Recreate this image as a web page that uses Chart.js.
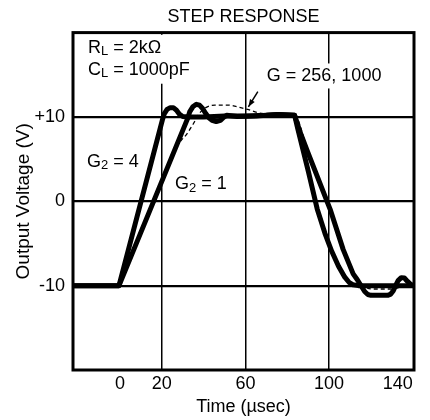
<!DOCTYPE html>
<html>
<head>
<meta charset="utf-8">
<script src="https://cdn.jsdelivr.net/npm/chart.js@4"></script>
<style>
  html, body { margin: 0; padding: 0; background: #fff; }
  #wrap { width: 430px; height: 420px; }
</style>
</head>
<body>
<div id="wrap"><canvas id="stepChart" width="430" height="420"></canvas></div>
<script>
// time axis (usec) and tick labels
var xMin = -22.5, xMax = 140.6;
var xTicks = [0, 20, 60, 100, 140];
var xGrid = [20, 60, 100];
var yTicks = [-10, 0, 10];

// G2 = 4 trace
var tG4 = [-22.5, -0.5, 20.2, 21.2, 22.5, 24, 25.5, 27, 28.5, 30, 33, 40, 50, 60, 70, 76, 83.5,
           85, 90, 94.3, 98, 101.2, 104.5, 107.5, 109.5, 111.5, 114, 125, 140.6];
var vG4 = [-10, -10, 9.6, 10.4, 10.9, 11.1, 11.1, 10.8, 10.3, 10.05, 10, 10, 10.1, 10.1, 10.2, 10.3, 10.2,
           8.6, 3.6, -0.9, -3.8, -5.9, -7.7, -9, -9.6, -9.9, -10, -10, -10];

// G2 = 1 trace
var tG1 = [-22.5, -0.5, 32.3, 33.3, 34.8, 36.5, 38, 39.5, 41, 42.5, 44, 46, 48, 49.5, 51, 53, 56, 65, 75, 83.5,
           86, 89.5, 100.5, 106.7, 111.5, 113.5, 115.5, 117, 118.5, 120, 128, 129.5, 130.7, 131.8, 133, 134.5,
           136, 137.5, 139, 140.6];
var vG1 = [-10, -10, 9.8, 10.6, 11.2, 11.5, 11.4, 11, 10.4, 9.9, 9.6, 9.45, 9.6, 9.95, 10.2, 10.15, 10.05, 10.1, 10.3, 10.2,
           8.3, 6.0, -0.95, -5.7, -8.6, -9.3, -10.1, -10.7, -11.05, -11.15, -11.15, -11, -10.6, -10, -9.4, -9.05,
           -9.1, -9.5, -9.85, -10];

// G = 256, 1000 trace (dashed)
var tG = [-22.5, -0.5, 2, 12, 24, 28, 32, 35.8, 38.2, 41, 45.4, 52, 56, 61, 66, 72, 79, 83.5,
          90, 100.5, 107, 113, 117, 121, 130, 134, 140.6];
var vG = [-10, -10, -8.5, -2.45, 4.8, 6.8, 8.0, 9.5, 10.5, 11.1, 11.4, 11.4, 11.2, 10.9, 10.5, 10.35, 10.3, 10.2,
          5.8, -0.8, -5.8, -9, -10.1, -10.4, -10.4, -10.2, -10];

function pts(t, v) {
    return t.map(function (x, i) { return { x: x, y: v[i] }; });
}

var fontFamily = '"Liberation Sans", Arial, Helvetica, sans-serif';

// text notes inside the plot, placed in data units
var notes = [
    { t: -15.3, v: 18.2, parts: [['R'], ['L', 1], [' = 2k\u03A9']], pad: [4, 6, 4, 8] },
    { t: -15.3, v: 15.6, parts: [['C'], ['L', 1], [' = 1000pF']], pad: [4, 6, 5, 8] },
    { t: 70.2, v: 14.8, parts: [['G = 256, 1000']], pad: [4, 4, 3, 4] },
    { t: -15.8, v: 4.7, parts: [['G'], ['2', 1], [' = 4']], pad: [2, 2, 2, 2] },
    { t: 26.3, v: 2.0, parts: [['G'], ['2', 1], [' = 1']], pad: [2, 2, 2, 2] }
];

var notesPlugin = {
    id: 'notes',
    beforeDatasetsDraw: function (chart) {
        var ctx = chart.ctx;
        var xs = chart.scales.x, ys = chart.scales.y;
        ctx.save();
        ctx.textBaseline = 'middle';
        notes.forEach(function (n) {
            var x0 = xs.getPixelForValue(n.t);
            var y0 = ys.getPixelForValue(n.v);
            var w = 0;
            n.parts.forEach(function (p) {
                ctx.font = (p[1] ? '13px ' : '18px ') + fontFamily;
                w += ctx.measureText(p[0]).width;
            });
            ctx.fillStyle = '#fff';
            ctx.fillRect(x0 - n.pad[3], y0 - 9 - n.pad[0], w + n.pad[1] + n.pad[3], 18 + n.pad[0] + n.pad[2]);
            ctx.fillStyle = '#000';
            var x = x0;
            n.parts.forEach(function (p) {
                ctx.font = (p[1] ? '13px ' : '18px ') + fontFamily;
                ctx.fillText(p[0], x, p[1] ? y0 + 4 : y0);
                x += ctx.measureText(p[0]).width;
            });
        });
        ctx.restore();
    },
    afterDraw: function (chart) {
        var ctx = chart.ctx, a = chart.chartArea;
        var xs = chart.scales.x, ys = chart.scales.y;
        ctx.save();
        // frame
        ctx.strokeStyle = '#000';
        ctx.lineWidth = 3;
        ctx.strokeRect(a.left, a.top, a.right - a.left, a.bottom - a.top);
        // arrow from the G label to the dashed trace
        var x1 = xs.getPixelForValue(65.9), y1 = ys.getPixelForValue(13.0);
        var x2 = xs.getPixelForValue(61.4), y2 = ys.getPixelForValue(11.2);
        ctx.lineWidth = 1.5;
        ctx.beginPath();
        ctx.moveTo(x1, y1);
        ctx.lineTo(x2, y2);
        ctx.stroke();
        var ang = Math.atan2(y2 - y1, x2 - x1);
        ctx.beginPath();
        ctx.moveTo(x2, y2);
        ctx.lineTo(x2 - 8 * Math.cos(ang - 0.35), y2 - 8 * Math.sin(ang - 0.35));
        ctx.lineTo(x2 - 8 * Math.cos(ang + 0.35), y2 - 8 * Math.sin(ang + 0.35));
        ctx.closePath();
        ctx.fillStyle = '#000';
        ctx.fill();
        ctx.restore();
    }
};

var thick = {
    borderColor: '#000',
    borderWidth: 5,
    pointRadius: 0,
    fill: false,
    tension: 0,
    borderJoinStyle: 'round',
    borderCapStyle: 'round'
};

new Chart(document.getElementById('stepChart'), {
    type: 'line',
    data: {
        datasets: [
            Object.assign({ label: 'G2 = 4', data: pts(tG4, vG4) }, thick),
            Object.assign({ label: 'G2 = 1', data: pts(tG1, vG1) }, thick),
            {
                label: 'G = 256, 1000',
                data: pts(tG, vG),
                borderColor: '#000',
                borderWidth: 1.3,
                borderDash: [4, 3],
                pointRadius: 0,
                fill: false,
                cubicInterpolationMode: 'monotone'
            }
        ]
    },
    options: {
        responsive: false,
        animation: false,
        layout: { padding: { left: 12, right: 16, top: 0, bottom: 0 } },
        plugins: {
            legend: { display: false },
            tooltip: { enabled: false },
            title: {
                display: true,
                fullSize: false,
                text: 'STEP RESPONSE',
                color: '#000',
                font: { family: fontFamily, size: 18, weight: 'normal' },
                padding: { top: 6, bottom: 5 }
            }
        },
        scales: {
            x: {
                type: 'linear',
                min: xMin,
                max: xMax,
                afterBuildTicks: function (axis) {
                    axis.ticks = [{ value: xMin }].concat(xTicks.map(function (v) { return { value: v }; }));
                },
                afterFit: function (axis) { axis.height = 50; },
                ticks: {
                    align: 'inner',
                    padding: 3,
                    color: '#000',
                    font: { family: fontFamily, size: 18 },
                    maxRotation: 0,
                    callback: function (v) { return v === xMin ? '' : String(v); }
                },
                grid: {
                    drawTicks: false,
                    lineWidth: 1.5,
                    color: function (c) {
                        return c.tick && xGrid.indexOf(c.tick.value) >= 0 ? '#000' : 'rgba(0,0,0,0)';
                    }
                },
                border: { display: false },
                title: {
                    display: true,
                    text: 'Time (\u00B5sec)',
                    color: '#000',
                    font: { family: fontFamily, size: 18 },
                    padding: { top: 2, bottom: 2 }
                }
            },
            y: {
                min: -20,
                max: 20,
                afterBuildTicks: function (axis) {
                    axis.ticks = yTicks.map(function (v) { return { value: v }; });
                },
                afterFit: function (axis) { axis.width = 61; },
                ticks: {
                    padding: 8,
                    color: '#000',
                    font: { family: fontFamily, size: 18 },
                    callback: function (v) { return v > 0 ? '+' + v : String(v); }
                },
                grid: {
                    drawTicks: false,
                    lineWidth: 2.2,
                    color: '#000'
                },
                border: { display: false },
                title: {
                    display: true,
                    text: 'Output Voltage (V)',
                    color: '#000',
                    font: { family: fontFamily, size: 19 },
                    padding: 0
                }
            }
        }
    },
    plugins: [notesPlugin]
});
</script>
</body>
</html>
